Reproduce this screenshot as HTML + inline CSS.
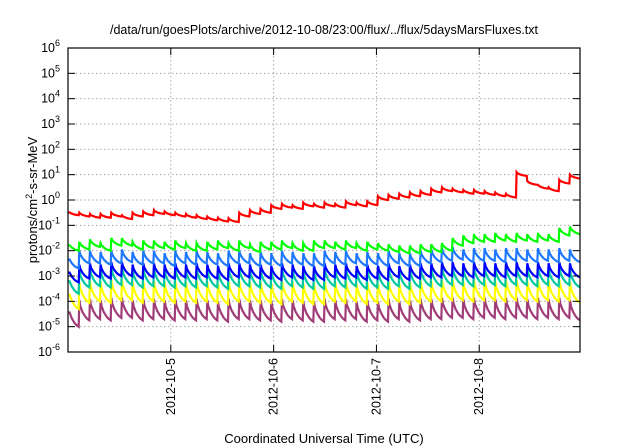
<!DOCTYPE html>
<html><head><meta charset="utf-8"><style>
body{margin:0;background:#fff;}
svg{display:block;font-family:"Liberation Sans",Arial,sans-serif;}
</style></head><body>
<svg id="chart" width="640" height="448">
<text x="324" y="34" font-size="12.5" text-anchor="middle">/data/run/goesPlots/archive/2012-10-08/23:00/flux/../flux/5daysMarsFluxes.txt</text>
<text x="0" y="0" font-size="13" text-anchor="middle" transform="translate(37,200) rotate(-90)">protons/cm<tspan dy="-5" font-size="9">2</tspan><tspan dy="5">-s-sr-MeV</tspan></text>
<text x="324" y="443" font-size="13" text-anchor="middle">Coordinated Universal Time (UTC)</text>
<g id="grid"></g><g id="series"></g><g id="axes"></g>
</svg>
<script>
const xTickLabels=["2012-10-5","2012-10-6","2012-10-7","2012-10-8"];
const xTickDays=[1,2,3,4];
const yTickExps=[-6,-5,-4,-3,-2,-1,0,1,2,3,4,5,6];
const seriesNames=["red","green","lightblue","blue","teal","yellow","purple"];
const seriesColors=["#ff0000","#00ff00","#1e78ff","#0000ff","#00c8a0","#ffff00","#a03c78"];
const redPeaks=[-0.45,-0.5,-0.55,-0.55,-0.5,-0.6,-0.5,-0.45,-0.4,-0.45,-0.5,-0.55,-0.6,-0.65,-0.7,-0.72,-0.5,-0.4,-0.35,-0.2,-0.15,-0.2,-0.1,-0.15,-0.1,-0.15,-0.05,-0.1,-0.05,0.15,0.2,0.25,0.3,0.35,0.45,0.5,0.45,0.4,0.4,0.35,0.3,0.25,1.1,0.75,0.6,0.5,0.8,1.0];
const greenPeaks=[-1.7,-1.65,-1.55,-1.7,-1.5,-1.5,-1.65,-1.6,-1.6,-1.65,-1.6,-1.7,-1.7,-1.65,-1.6,-1.7,-1.6,-1.75,-1.65,-1.65,-1.6,-1.7,-1.7,-1.6,-1.6,-1.65,-1.6,-1.7,-1.65,-1.7,-1.75,-1.8,-1.8,-1.75,-1.75,-1.7,-1.5,-1.4,-1.35,-1.35,-1.3,-1.35,-1.3,-1.35,-1.3,-1.35,-1.1,-1.05];
const lightBluePeaks=[-2.2,-2.0,-2.0,-2.05,-2.0,-1.95,-2.05,-2.0,-2.0,-2.1,-2.0,-2.05,-2.0,-2.05,-2.1,-2.0,-2.0,-2.1,-2.05,-2.1,-2.0,-2.05,-2.1,-2.1,-2.0,-2.05,-2.0,-2.1,-2.05,-2.1,-2.0,-2.1,-2.1,-2.0,-1.95,-1.9,-1.85,-1.95,-1.9,-1.9,-1.95,-1.9,-1.9,-1.95,-1.9,-1.95,-1.9,-1.95];
const bluePeaks=[-2.7,-2.55,-2.5,-2.55,-2.45,-2.45,-2.55,-2.5,-2.5,-2.55,-2.5,-2.55,-2.5,-2.55,-2.6,-2.5,-2.5,-2.55,-2.55,-2.6,-2.5,-2.55,-2.6,-2.6,-2.5,-2.55,-2.5,-2.6,-2.55,-2.6,-2.5,-2.6,-2.55,-2.5,-2.5,-2.45,-2.45,-2.5,-2.45,-2.45,-2.5,-2.45,-2.45,-2.5,-2.45,-2.5,-2.45,-2.5];
const tealPeaks=[-3.0,-2.75,-2.7,-2.75,-2.65,-2.65,-2.75,-2.7,-2.7,-2.75,-2.7,-2.75,-2.7,-2.75,-2.8,-2.7,-2.7,-2.75,-2.75,-2.8,-2.7,-2.75,-2.8,-2.8,-2.7,-2.75,-2.7,-2.8,-2.75,-2.8,-2.7,-2.8,-2.75,-2.7,-2.7,-2.65,-2.65,-2.7,-2.65,-2.65,-2.7,-2.65,-2.65,-2.7,-2.65,-2.7,-2.65,-2.75];
const yellowPeaks=[-3.5,-3.25,-3.2,-3.25,-3.15,-3.15,-3.25,-3.2,-3.2,-3.25,-3.2,-3.25,-3.2,-3.25,-3.3,-3.2,-3.2,-3.25,-3.25,-3.3,-3.2,-3.25,-3.3,-3.3,-3.2,-3.25,-3.2,-3.3,-3.25,-3.3,-3.2,-3.3,-3.25,-3.2,-3.2,-3.15,-3.15,-3.2,-3.15,-3.15,-3.2,-3.15,-3.15,-3.2,-3.15,-3.2,-3.15,-3.25];
const purplePeaks=[-4.2,-3.95,-3.9,-3.95,-3.85,-3.85,-3.95,-3.9,-3.9,-3.95,-3.9,-3.95,-3.9,-3.95,-4.0,-3.9,-3.9,-3.95,-3.95,-4.0,-3.9,-3.95,-4.0,-4.0,-3.9,-3.95,-3.9,-4.0,-3.95,-4.0,-3.9,-4.0,-3.95,-3.9,-3.9,-3.85,-3.85,-3.9,-3.85,-3.85,-3.9,-3.85,-3.85,-3.9,-3.85,-3.9,-3.85,-3.95];
const seriesAmps=[0.15,0.3,0.5,0.55,0.7,0.8,0.8];
const allPeaks=[redPeaks,greenPeaks,lightBluePeaks,bluePeaks,tealPeaks,yellowPeaks,purplePeaks];
const totalDays=4.98;

const L=68,R=580,T=48,B=352;
const X=d=>L+d/totalDays*(R-L);
const Y=e=>B-(e+6)*(B-T)/12;
const NS="http://www.w3.org/2000/svg";
function mk(tag,attrs,parent){const el=document.createElementNS(NS,tag);for(const k in attrs)el.setAttribute(k,attrs[k]);parent.appendChild(el);return el;}
const grid=document.getElementById('grid'),axes=document.getElementById('axes'),ser=document.getElementById('series');
yTickExps.forEach(e=>{
  const y=Y(e);
  if(e>-6&&e<6){const g=mk('line',{x1:L,x2:R,y1:y,y2:y,stroke:'#aaa','stroke-dasharray':'1.5,2.5','stroke-width':1},grid);
  
  }
  mk('line',{x1:L,x2:L+7,y1:y,y2:y,stroke:'#000'},axes);
  mk('line',{x1:R,x2:R-7,y1:y,y2:y,stroke:'#000'},axes);
  const t=mk('text',{x:L-8,y:y+4,'font-size':12.5,'text-anchor':'end'},axes);
  
  
  t.textContent='10';
  const s=mk('tspan',{dy:-6,'font-size':9},t);s.textContent=String(e);
});
xTickDays.forEach((d,i)=>{
  const x=X(d);
  const g=mk('line',{x1:x,x2:x,y1:T,y2:B,stroke:'#aaa','stroke-dasharray':'1.5,2.5'},grid);
  
  
  mk('line',{x1:x,x2:x,y1:B,y2:B-7,stroke:'#000'},axes);
  mk('line',{x1:x,x2:x,y1:T,y2:T+7,stroke:'#000'},axes);
  const t=mk('text',{x:0,y:0,'font-size':12.5,'text-anchor':'end',transform:`translate(${x+4},${B+6}) rotate(-90)`},axes);
  
  
  t.textContent=xTickLabels[i];
});
const fr=mk('rect',{x:L,y:T,width:R-L,height:B-T,fill:'none',stroke:'#000','stroke-width':1.2},axes);


const fracs=[0.15,0.35,0.6,0.8,1];
const norm=1-Math.exp(-2);
allPeaks.slice().reverse().forEach((peaks,ri)=>{
  const si=allPeaks.length-1-ri;
  const n=peaks.length,per=totalDays/n,amp=seriesAmps[si];
  let pts=[];
  for(let k=0;k<n;k++){
    const t0=k*per,pk=peaks[k],tr=pk-amp;
    if(k===0)pts.push([X(0),Y(pk-amp*0.3)]);
    else pts.push([X(t0+per*0.06),Y(pk)]);
    fracs.forEach(f=>{const v=pk-(pk-tr)*(1-Math.exp(-2*f))/norm;pts.push([X(Math.min(t0+per*f,totalDays)),Y(v)]);});
  }
  const p=mk('polyline',{points:pts.map(q=>q[0].toFixed(1)+','+q[1].toFixed(1)).join(' '),fill:'none',stroke:seriesColors[si],'stroke-width':2.2,'stroke-linejoin':'miter'},ser);
  
  
});
</script>
</body></html>
